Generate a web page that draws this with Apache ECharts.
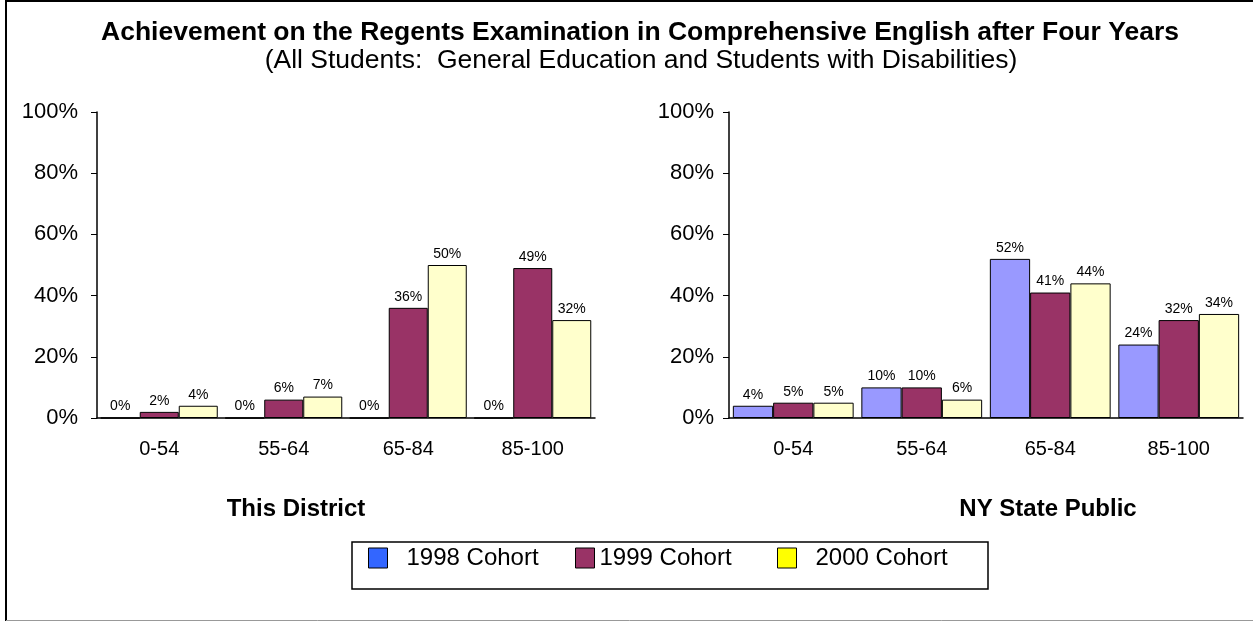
<!DOCTYPE html>
<html>
<head>
<meta charset="utf-8">
<script src="https://cdn.jsdelivr.net/npm/echarts@6/dist/echarts.min.js"></script>
<style>
    html,body{margin:0;padding:0;background:#fff;}
    #regentsChart{width:1253px;height:621px;}
</style>
</head>
<body>
<div id="regentsChart"></div>
<script>
var categories = ['0-54', '55-64', '65-84', '85-100'];
var cohortNames = ['1998 Cohort', '1999 Cohort', '2000 Cohort'];
var yTicks = [0, 20, 40, 60, 80, 100];

// This District
var district1998 = [0, 0, 0, 0];
var district1999 = [2, 6, 36, 49];
var district2000 = [4, 7, 50, 32];

// NY State Public
var state1998 = [4, 10, 52, 24];
var state1999 = [5, 10, 41, 32];
var state2000 = [5, 6, 44, 34];

var barColors = ['#9999FF', '#993366', '#FFFFCC'];
var legendColors = ['#3366FF', '#993366', '#FFFF00'];

var font = 'Arial, "Liberation Sans", sans-serif';

function makeSeries(name, data, idx, grid){
    return {
        name: name,
        type: 'bar',
        xAxisIndex: grid,
        yAxisIndex: grid,
        data: data,
        barGap: '0%',
        barCategoryGap: '6%',
        itemStyle: {color: barColors[idx], borderColor: '#000', borderWidth: 1},
        label: {
            show: true,
            position: 'top',
            distance: 4,
            formatter: '{c}%',
            fontFamily: font,
            fontSize: 14,
            color: '#000'
        }
    };
}

function xAxisFor(grid){
    return {
        type: 'category',
        gridIndex: grid,
        data: categories,
        axisLine: {lineStyle: {color: '#000', width: 1.5}},
        axisTick: {length: 6, lineStyle: {color: '#000'}},
        axisLabel: {fontFamily: font, fontSize: 20, color: '#000', margin: 21}
    };
}

function yAxisFor(grid){
    return {
        type: 'value',
        gridIndex: grid,
        min: yTicks[0],
        max: yTicks[yTicks.length - 1],
        interval: yTicks[1] - yTicks[0],
        axisLine: {show: true, lineStyle: {color: '#000', width: 1.5}},
        axisTick: {show: true, length: 6, lineStyle: {color: '#000'}},
        splitLine: {show: false},
        axisLabel: {fontFamily: font, fontSize: 22, color: '#000', margin: [19, 15][grid], formatter: '{value}%'}
    };
}

function oneLegend(i, left){
    return {
        left: left,
        top: 546,
        padding: 0,
        itemWidth: 19,
        itemHeight: 20,
        icon: 'rect',
        selectedMode: false,
        textStyle: {fontFamily: font, fontSize: 24, color: '#000', padding: [0, 0, 0, [14, 0, 14][i]]},
        data: [{name: cohortNames[i], itemStyle: {color: legendColors[i], borderColor: '#000', borderWidth: 1}}]
    };
}

function label(text, x, y, size, weight){
    return {
        type: 'text', x: x, y: y,
        style: {text: text, align: 'center', verticalAlign: 'middle', fontFamily: font, fontSize: size, fontWeight: weight, fill: '#000'}
    };
}

var option = {
    animation: false,
    backgroundColor: '#fff',
    legend: [oneLegend(0, 368), oneLegend(1, 575), oneLegend(2, 777)],
    grid: [
        {left: 97, top: 112, width: 498, height: 306},
        {left: 729, top: 112, width: 514, height: 306}
    ],
    xAxis: [xAxisFor(0), xAxisFor(1)],
    yAxis: [yAxisFor(0), yAxisFor(1)],
    series: [
        makeSeries(cohortNames[0], district1998, 0, 0),
        makeSeries(cohortNames[1], district1999, 1, 0),
        makeSeries(cohortNames[2], district2000, 2, 0),
        makeSeries(cohortNames[0], state1998, 0, 1),
        makeSeries(cohortNames[1], state1999, 1, 1),
        makeSeries(cohortNames[2], state2000, 2, 1)
    ],
    graphic: [
        label('Achievement on the Regents Examination in Comprehensive English after Four Years', 640, 33, 26.5, 'bold'),
        label('(All Students:  General Education and Students with Disabilities)', 641, 61, 26.5, 'normal'),
        label('This District', 296, 509, 24, 'bold'),
        label('NY State Public', 1048, 509, 24, 'bold'),
        {type: 'rect', shape: {x: 352, y: 542, width: 636, height: 47}, style: {fill: 'none', stroke: '#000', lineWidth: 1.5}, z: -1},
        {type: 'line', shape: {x1: 6, y1: 0, x2: 6, y2: 621}, style: {stroke: '#000', lineWidth: 2}},
        {type: 'line', shape: {x1: 6, y1: 1, x2: 1253, y2: 1}, style: {stroke: '#000', lineWidth: 2}},
        {type: 'line', shape: {x1: 6, y1: 620.5, x2: 1253, y2: 620.5}, style: {stroke: '#999', lineWidth: 1}}
    ]
};

var chart = echarts.init(document.getElementById('regentsChart'));
chart.setOption(option);
</script>
</body>
</html>
